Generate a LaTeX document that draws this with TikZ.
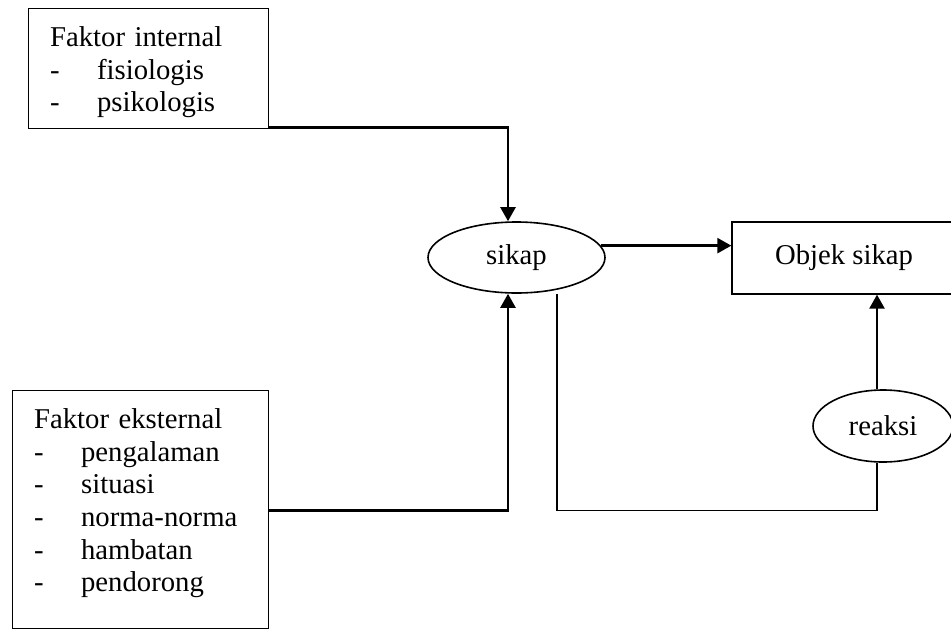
\documentclass[tikz,border=0pt]{standalone}
\usepackage{fontspec}
\setmainfont{Liberation Serif}
\usetikzlibrary{shapes.geometric, arrows.meta}

\newcommand{\butir}{\makebox[47pt][l]{-}}

\begin{document}
\begin{tikzpicture}[x=1pt, y=-1pt, >={Triangle[length=14pt, width=15pt]},
        font=\fontsize{28.7}{32.6}\selectfont,
        kotak/.style={draw, line width=1.3pt, align=left, anchor=north west,
            inner xsep=21.5pt, inner ysep=0pt, text height=38pt},
        oval/.style={draw, ellipse, line width=1.6pt, inner sep=0pt},
        panah/.style={->, line width=2.4pt},
        garis/.style={line width=1.3pt}]
        \useasboundingbox (0,0) rectangle (951,630);
        \clip (0,0) rectangle (951,630);

        % kotak faktor
        \node[kotak, text width=197pt, text depth=82pt] (internal) at (28,8)
            {Faktor internal\\ \butir fisiologis\\ \butir psikologis};
        \node[kotak, text width=213pt, text depth=200pt] (eksternal) at (12,390)
            {Faktor eksternal\\ \butir pengalaman\\ \butir situasi\\
             \butir norma-norma\\ \butir hambatan\\ \butir pendorong};

        \node[oval, minimum width=177pt, minimum height=71pt] (sikap) at (516.5,257.5) {sikap};
        \node[draw, line width=1.3pt, minimum width=224pt, minimum height=72pt] (objek) at (844,258) {Objek sikap};
        \node[oval, minimum width=140pt, minimum height=72pt] (reaksi) at (883,426) {reaksi};

        \coordinate (masuk) at ([xshift=-8.5pt]sikap.north);
        \coordinate (bawah) at ([xshift=-8.5pt]sikap.south);
        \coordinate (naik) at ([xshift=-6pt]reaksi.north);

        % panah
        \draw[panah] ([yshift=2pt]internal.south east) -| (masuk);
        \draw[panah] ([yshift=-1pt]eksternal.east) -| (bawah);
        \draw[panah] (sikap.8) -- (sikap.8 -| objek.west);
        \draw[panah] (naik) -- (naik |- objek.south);

        % umpan balik
        \draw[garis] ([xshift=40.5pt]sikap.south) -- ++(0,217) -| ([xshift=-6pt]reaksi.south);
    \end{tikzpicture}
\end{document}
